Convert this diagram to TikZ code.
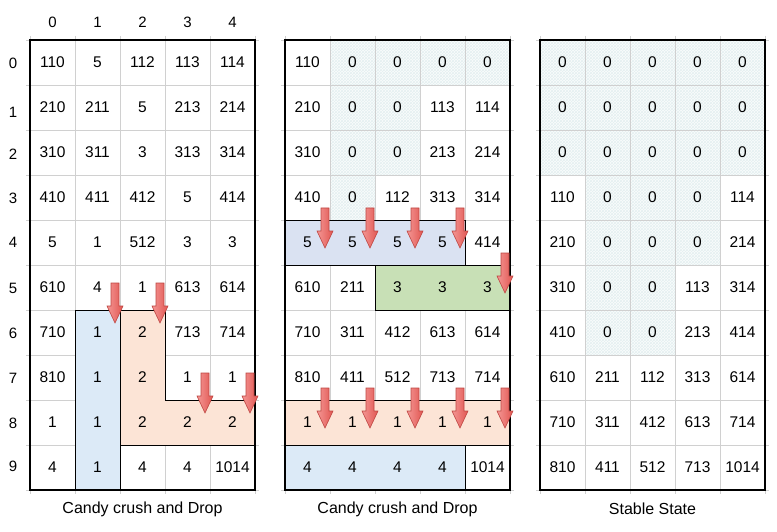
\documentclass[tikz,border=0pt]{standalone}
\usepackage{fontspec}
\setmainfont{Liberation Sans}
\usetikzlibrary{patterns}
\definecolor{gridgray}{RGB}{208,208,208}
\definecolor{hatchbg}{RGB}{250,252,252}
\definecolor{hatchln}{RGB}{228,240,241}
\definecolor{blueA}{RGB}{220,234,247}
\definecolor{blueB}{RGB}{218,226,242}
\definecolor{orangeA}{RGB}{252,228,214}
\definecolor{greenA}{RGB}{200,224,182}
\definecolor{arrowL}{RGB}{243,150,147}
\definecolor{arrowR}{RGB}{226,86,82}
\definecolor{arrowE}{RGB}{190,70,66}
\begin{document}
\begin{tikzpicture}[x=1pt,y=-1pt,
  cell/.style={inner sep=0pt,font=\fontsize{15.5}{16}\selectfont},
  axislabel/.style={inner sep=0pt,font=\fontsize{15}{16}\selectfont},
  caption/.style={inner sep=0pt,font=\fontsize{16}{17}\selectfont},
  gline/.style={draw=gridgray,line width=0.8pt},
  border/.style={draw=black,line width=1.6pt},
  region/.style={draw=black,line width=0.8pt},
  hatch/.style={fill=hatchbg},
  hatchp/.style={pattern=crosshatch,pattern color=hatchln},
  arrowstyle/.style={draw=arrowE,line width=0.6pt,left color=arrowL,right color=arrowR},
  downarrow/.pic={\path[arrowstyle] (-4,0) -- (4,0) -- (4,23) -- (8,23) -- (0,40) -- (-8,23) -- (-4,23) -- cycle;}
]
\useasboundingbox (0,0) rectangle (777,532);
% hatched zero cells
\foreach \X/\cells in {285/{0/1,0/2,0/3,0/4,1/1,1/2,2/1,2/2,3/1},
  540/{0/0,0/1,0/2,0/3,0/4,1/0,1/1,1/2,1/3,1/4,2/0,2/1,2/2,2/3,2/4,3/1,3/2,3/3,4/1,4/2,4/3,5/1,5/2,6/1,6/2}}{
  \foreach \r/\c in \cells {
    \fill[hatch] ({\X+45*\c},{40+45*\r}) rectangle ++(45,45);
    \fill[hatchp] ({\X+45*\c},{40+45*\r}) rectangle ++(45,45);
  }
}
% grid lines
\foreach \X in {30,285,540}{
  \foreach \i in {1,...,4} \draw[gline] ({\X+45*\i},36) -- ({\X+45*\i},494);
  \foreach \j in {1,...,9} \draw[gline] ({\X-4},{40+45*\j}) -- ({\X+229},{40+45*\j});
  \draw[gline] ({\X-4},40) -- ({\X+229},40);
  \draw[gline] ({\X-4},490) -- ({\X+229},490);
  \draw[gline] (\X,36) -- (\X,494);
  \draw[gline] ({\X+225},36) -- ({\X+225},494);
}
% coloured regions, grid 1
\path[region,fill=blueA] (75,310) rectangle (120,490);
\path[region,fill=orangeA] (120,310) -- (165,310) -- (165,400) -- (255,400) -- (255,445) -- (120,445) -- cycle;
% grid 2
\path[region,fill=blueB] (285,220) rectangle (465,265);
\path[region,fill=greenA] (375,265) rectangle (510,310);
\path[region,fill=orangeA] (285,400) rectangle (510,445);
\path[region,fill=blueA] (285,445) rectangle (465,490);
% borders
\foreach \X in {30,285,540} \draw[border] (\X,40) rectangle ({\X+225},490);
% axis labels
\foreach \c in {0,...,4} \node[axislabel] (col\c) at ({52.5+45*\c},22) {\c};
\foreach \r/\yy in {0/63,1/112,2/154,3/198,4/242,5/288,6/333,7/378,8/423,9/466}
  \node[axislabel] (row\r) at (13,\yy) {\r};
% cell values
\foreach [count=\r from 0] \rowlist in {{110,5,112,113,114},{210,211,5,213,214},{310,311,3,313,314},{410,411,412,5,414},{5,1,512,3,3},{610,4,1,613,614},{710,1,2,713,714},{810,1,2,1,1},{1,1,2,2,2},{4,1,4,4,1014}}{
  \foreach [count=\c from 0] \v in \rowlist
    \node[cell] (a-\r-\c) at ({52.5+45*\c},{62.5+45*\r}) {\v};
}
\foreach [count=\r from 0] \rowlist in {{110,0,0,0,0},{210,0,0,113,114},{310,0,0,213,214},{410,0,112,313,314},{5,5,5,5,414},{610,211,3,3,3},{710,311,412,613,614},{810,411,512,713,714},{1,1,1,1,1},{4,4,4,4,1014}}{
  \foreach [count=\c from 0] \v in \rowlist
    \node[cell] (b-\r-\c) at ({307.5+45*\c},{62.5+45*\r}) {\v};
}
\foreach [count=\r from 0] \rowlist in {{0,0,0,0,0},{0,0,0,0,0},{0,0,0,0,0},{110,0,0,0,114},{210,0,0,0,214},{310,0,0,113,314},{410,0,0,213,414},{610,211,112,313,614},{710,311,412,613,714},{810,411,512,713,1014}}{
  \foreach [count=\c from 0] \v in \rowlist
    \node[cell] (c-\r-\c) at ({562.5+45*\c},{62.5+45*\r}) {\v};
}
% captions
\node[caption] (capA) at (142.5,509) {Candy crush and Drop};
\node[caption] (capB) at (397.5,509) {Candy crush and Drop};
\node[caption] (capC) at (652.5,509) {Stable State};
% arrows
\foreach \ax/\ay in {115/283,160/283,205/373,250/373,325/208,370/208,415/208,460/208,505/253,325/388,370/388,415/388,460/388,505/388}
  \pic at (\ax,\ay) {downarrow};
\end{tikzpicture}
\end{document}
